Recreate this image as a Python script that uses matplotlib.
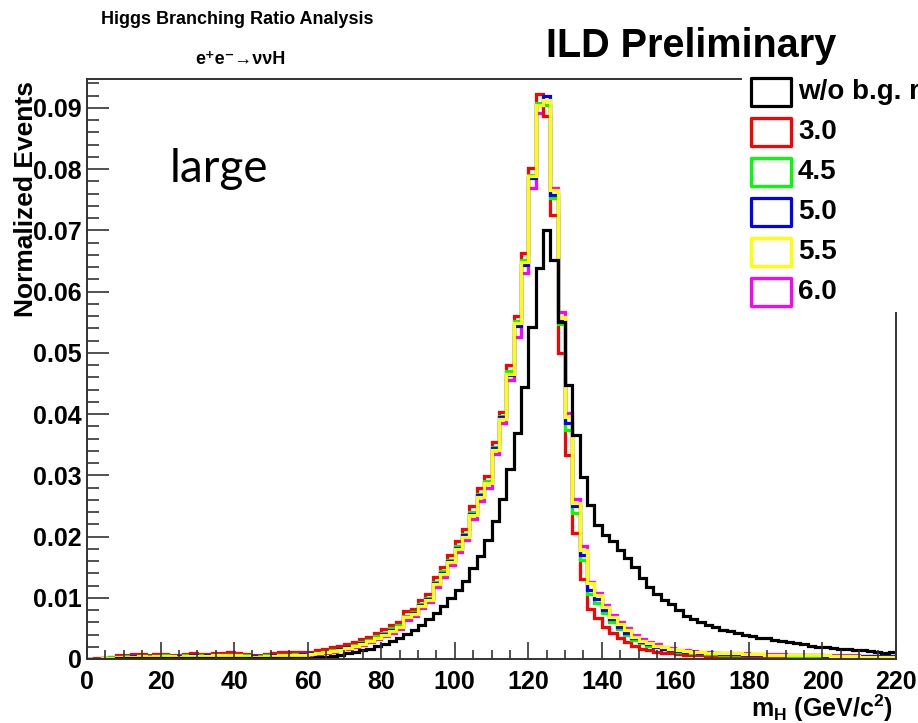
import matplotlib
matplotlib.use("Agg")
import matplotlib.pyplot as plt
from matplotlib.patches import Rectangle
from matplotlib.ticker import MultipleLocator, FuncFormatter
import numpy as np

plt.rcParams['font.family'] = ['Liberation Sans', 'DejaVu Sans']
plt.rcParams['font.weight'] = 'bold'
plt.rcParams['mathtext.default'] = 'regular'

# 2 GeV bins from 0 to 220
edges = np.arange(0, 222, 2)

# w/o b.g. rejection
black = [0, 0, 0.00005, 0.00005, 0.0001, 0.0001, 0.0001, 0.0001, 0.0001, 0.0001,
         0.0001, 0.0001, 0.0001, 0.0001, 0.0001, 0.0001, 0.0001, 0.0001, 0.0001, 0.0001,
         0.0001, 0.0001, 0.0001, 0.0001, 0.0001, 0.0001, 0.0001, 0.0002, 0.0002, 0.0002,
         0.0002, 0.0003, 0.0004, 0.0005, 0.0007, 0.0009, 0.0011, 0.0014, 0.0017, 0.0021,
         0.0025, 0.0030, 0.0035, 0.0041, 0.0048, 0.0056, 0.0065, 0.0075, 0.0087, 0.0100,
         0.0113, 0.0128, 0.0148, 0.0168, 0.0195, 0.0225, 0.0262, 0.0310, 0.0369, 0.0444,
         0.0542, 0.0639, 0.0701, 0.0652, 0.0551, 0.0447, 0.0366, 0.0297, 0.0252, 0.0219,
         0.0203, 0.0192, 0.0178, 0.0165, 0.0150, 0.0132, 0.0118, 0.0106, 0.0097, 0.0089,
         0.0080, 0.0070, 0.0065, 0.0060, 0.0056, 0.0052, 0.0048, 0.0046, 0.0043, 0.0039,
         0.0037, 0.0035, 0.0034, 0.0031, 0.0029, 0.0028, 0.0026, 0.0024, 0.0021, 0.0020,
         0.0019, 0.0018, 0.0017, 0.0016, 0.0015, 0.0015, 0.0013, 0.0012, 0.0010, 0.0012]

# 3.0
red = [0, 0.0001, 0.0002, 0.0004, 0.0006, 0.0007, 0.0008, 0.0008, 0.0007, 0.0008,
       0.0008, 0.0007, 0.0007, 0.0008, 0.0009, 0.0008, 0.0008, 0.0010, 0.0010, 0.0011,
       0.0010, 0.0008, 0.0006, 0.0006, 0.0008, 0.0010, 0.0011, 0.0011, 0.0012, 0.0012,
       0.0012, 0.0014, 0.0016, 0.0019, 0.0021, 0.0025, 0.0028, 0.0032, 0.0036, 0.0042,
       0.0049, 0.0056, 0.0061, 0.0079, 0.0082, 0.0096, 0.0106, 0.0134, 0.0150, 0.0170,
       0.0192, 0.0212, 0.0249, 0.0279, 0.0298, 0.0355, 0.0403, 0.0480, 0.0560, 0.0663,
       0.0802, 0.0923, 0.0887, 0.0725, 0.0500, 0.0333, 0.0206, 0.0131, 0.0081, 0.0067,
       0.0053, 0.0042, 0.0034, 0.0028, 0.0021, 0.0017, 0.0015, 0.0012, 0.0010, 0.0009,
       0.0008, 0.0007, 0.0006, 0.0006, 0.0005, 0.0005, 0.0004, 0.0004, 0.0004, 0.0004,
       0.0003, 0.0003, 0.0003, 0.0003, 0.0003, 0.0003, 0.0003, 0.0003, 0.0003, 0.0003,
       0.0002, 0.0002, 0.0002, 0.0002, 0.0002, 0.0002, 0.0002, 0.0002, 0.0002, 0.0002]

# 4.5
green = [0, 0, 0.0001, 0.0003, 0.0004, 0.0005, 0.0005, 0.0005, 0.0005, 0.0005,
         0.0006, 0.0005, 0.0005, 0.0006, 0.0006, 0.0006, 0.0006, 0.0007, 0.0007, 0.0007,
         0.0007, 0.0006, 0.0005, 0.0005, 0.0006, 0.0006, 0.0007, 0.0007, 0.0008, 0.0008,
         0.0009, 0.0010, 0.0012, 0.0014, 0.0017, 0.0020, 0.0023, 0.0027, 0.0031, 0.0037,
         0.0043, 0.0050, 0.0055, 0.0071, 0.0077, 0.0090, 0.0100, 0.0126, 0.0143, 0.0162,
         0.0184, 0.0204, 0.0240, 0.0270, 0.0290, 0.0346, 0.0396, 0.0470, 0.0552, 0.0652,
         0.0790, 0.0908, 0.0905, 0.0753, 0.0547, 0.0374, 0.0238, 0.0162, 0.0106, 0.0092,
         0.0075, 0.0060, 0.0049, 0.0040, 0.0031, 0.0026, 0.0022, 0.0019, 0.0016, 0.0014,
         0.0012, 0.0011, 0.0010, 0.0009, 0.0008, 0.0008, 0.0007, 0.0007, 0.0007, 0.0006,
         0.0006, 0.0006, 0.0006, 0.0006, 0.0006, 0.0005, 0.0005, 0.0005, 0.0005, 0.0005,
         0.0005, 0.0005, 0.0005, 0.0005, 0.0005, 0.0004, 0.0004, 0.0004, 0.0004, 0.0004]

# 5.0
blue = [0, 0, 0.0001, 0.0002, 0.0004, 0.0004, 0.0005, 0.0005, 0.0004, 0.0005,
        0.0005, 0.0005, 0.0005, 0.0005, 0.0006, 0.0005, 0.0006, 0.0006, 0.0006, 0.0007,
        0.0006, 0.0005, 0.0005, 0.0004, 0.0005, 0.0006, 0.0006, 0.0007, 0.0007, 0.0008,
        0.0009, 0.0010, 0.0011, 0.0013, 0.0016, 0.0019, 0.0022, 0.0026, 0.0030, 0.0035,
        0.0041, 0.0048, 0.0053, 0.0069, 0.0075, 0.0088, 0.0098, 0.0124, 0.0141, 0.0160,
        0.0182, 0.0202, 0.0237, 0.0267, 0.0288, 0.0344, 0.0395, 0.0464, 0.0544, 0.0644,
        0.0786, 0.0905, 0.0920, 0.0757, 0.0552, 0.0385, 0.0249, 0.0170, 0.0113, 0.0098,
        0.0080, 0.0065, 0.0053, 0.0043, 0.0034, 0.0028, 0.0024, 0.0020, 0.0017, 0.0015,
        0.0013, 0.0012, 0.0011, 0.0010, 0.0009, 0.0009, 0.0008, 0.0008, 0.0008, 0.0007,
        0.0007, 0.0007, 0.0007, 0.0007, 0.0007, 0.0006, 0.0006, 0.0006, 0.0006, 0.0006,
        0.0005, 0.0005, 0.0005, 0.0005, 0.0005, 0.0005, 0.0005, 0.0005, 0.0005, 0.0005]

# 5.5
yellow = [0, 0, 0.0001, 0.0002, 0.0003, 0.0004, 0.0004, 0.0005, 0.0004, 0.0005,
          0.0005, 0.0005, 0.0004, 0.0005, 0.0005, 0.0005, 0.0005, 0.0006, 0.0006, 0.0006,
          0.0006, 0.0005, 0.0004, 0.0004, 0.0005, 0.0005, 0.0006, 0.0006, 0.0007, 0.0007,
          0.0008, 0.0009, 0.0011, 0.0013, 0.0015, 0.0018, 0.0021, 0.0025, 0.0029, 0.0034,
          0.0040, 0.0046, 0.0052, 0.0068, 0.0074, 0.0087, 0.0097, 0.0122, 0.0139, 0.0158,
          0.0180, 0.0200, 0.0235, 0.0265, 0.0287, 0.0342, 0.0392, 0.0466, 0.0548, 0.0648,
          0.0788, 0.0905, 0.0912, 0.0765, 0.0559, 0.0395, 0.0255, 0.0178, 0.0124, 0.0105,
          0.0085, 0.0069, 0.0057, 0.0047, 0.0036, 0.0030, 0.0026, 0.0022, 0.0019, 0.0016,
          0.0014, 0.0013, 0.0012, 0.0011, 0.0010, 0.0010, 0.0009, 0.0009, 0.0009, 0.0008,
          0.0008, 0.0008, 0.0007, 0.0007, 0.0007, 0.0007, 0.0007, 0.0006, 0.0006, 0.0006,
          0.0006, 0.0005, 0.0005, 0.0005, 0.0005, 0.0004, 0.0004, 0.0004, 0.0004, 0.0004]

# 6.0
magenta = [0, 0, 0.0001, 0.0002, 0.0003, 0.0003, 0.0004, 0.0004, 0.0004, 0.0004,
           0.0004, 0.0004, 0.0004, 0.0004, 0.0005, 0.0004, 0.0005, 0.0005, 0.0005, 0.0005,
           0.0005, 0.0004, 0.0004, 0.0004, 0.0004, 0.0005, 0.0005, 0.0006, 0.0006, 0.0007,
           0.0007, 0.0008, 0.0010, 0.0012, 0.0014, 0.0016, 0.0019, 0.0023, 0.0027, 0.0032,
           0.0037, 0.0043, 0.0049, 0.0064, 0.0070, 0.0083, 0.0093, 0.0117, 0.0134, 0.0153,
           0.0174, 0.0194, 0.0228, 0.0258, 0.0280, 0.0334, 0.0386, 0.0455, 0.0526, 0.0630,
           0.0769, 0.0892, 0.0905, 0.0769, 0.0567, 0.0402, 0.0261, 0.0185, 0.0126, 0.0108,
           0.0088, 0.0072, 0.0060, 0.0050, 0.0039, 0.0032, 0.0028, 0.0024, 0.0020, 0.0018,
           0.0015, 0.0014, 0.0013, 0.0012, 0.0011, 0.0010, 0.0010, 0.0009, 0.0009, 0.0009,
           0.0008, 0.0008, 0.0008, 0.0008, 0.0008, 0.0007, 0.0007, 0.0007, 0.0007, 0.0007,
           0.0006, 0.0006, 0.0006, 0.0006, 0.0006, 0.0005, 0.0005, 0.0005, 0.0005, 0.0005]

labels = ['w/o b.g. r', '3.0', '4.5', '5.0', '5.5', '6.0']
colors = ['black', '#ff0000', '#00ff00', '#0000ff', '#ffff00', '#ff00ff']

W, H = 918, 723
fig = plt.figure(figsize=(W / 100, H / 100), dpi=100)
ax = fig.add_axes([87 / W, 64 / H, 809 / W, 580 / H])

# draw order: coloured first, black on top
series = [magenta, red, green, blue, yellow, black]
scol = ['#ff00ff', '#ff0000', '#00ff00', '#0000ff', '#ffff00', 'black']
for vals, c in zip(series, scol):
    ax.stairs(vals, edges, color=c, lw=2.3, baseline=None)

ax.set_xlim(0, 220)
ax.set_ylim(0, 0.0947)

for s in ax.spines.values():
    s.set_color('#333333')
    s.set_linewidth(1.4)

ax.xaxis.set_major_locator(MultipleLocator(20))
ax.xaxis.set_minor_locator(MultipleLocator(5))
ax.yaxis.set_major_locator(MultipleLocator(0.01))
ax.yaxis.set_minor_locator(MultipleLocator(0.002))
ax.yaxis.set_major_formatter(FuncFormatter(lambda v, p: '0' if abs(v) < 1e-9 else f'{v:.2f}'))

ax.tick_params(axis='x', which='major', direction='in', length=12, width=1.2,
               color='#333333', labelsize=18, pad=8)
ax.tick_params(axis='x', which='minor', direction='in', length=6.2, width=1.2, color='#333333')
ax.tick_params(axis='y', which='major', direction='in', length=16, width=1.2,
               color='#333333', labelsize=18, pad=4)
ax.tick_params(axis='y', which='minor', direction='in', length=8.5, width=1.2, color='#333333')

# texts
fig.text(237 / W, 1 - 20 / H, 'Higgs Branching Ratio Analysis', ha='center', va='center', fontsize=13)
fig.text(240 / W, 1 - 60 / H, 'e⁺e⁻→ννH', ha='center', va='center', fontsize=13)
fig.text(691 / W, 1 - 46 / H, 'ILD Preliminary', ha='center', va='center', fontsize=28.5)
fig.text(26 / W, 1 - 81 / H, 'Normalized Events', rotation=90, ha='center', va='top', fontsize=19)
fig.text(893 / W, 1 - 708 / H, r'm$_{H}$ (GeV/c$^{2}$)', ha='right', va='center', fontsize=18)
fig.text(170 / W, 1 - 182 / H, 'large', family=['Lato', 'DejaVu Sans'], fontweight='normal',
         fontsize=33, va='baseline', ha='left')

# legend panel
fig.add_artist(Rectangle((742 / W, 1 - 312 / H), 176 / W, 234 / H, transform=fig.transFigure,
                         facecolor='white', edgecolor='none', zorder=5))
for k, (lab, c) in enumerate(zip(labels, colors)):
    top = 77.5 + 40 * k
    fig.add_artist(Rectangle((751 / W, 1 - (top + 28.5) / H), 39.5 / W, 28.5 / H,
                             transform=fig.transFigure, facecolor='none', edgecolor=c,
                             lw=2.3, joinstyle='round', zorder=6))
    fig.text(798 / W, 1 - (top + 14.5) / H, lab, ha='left', va='center', fontsize=20, zorder=7)

fig.savefig('out.png', dpi=100)
